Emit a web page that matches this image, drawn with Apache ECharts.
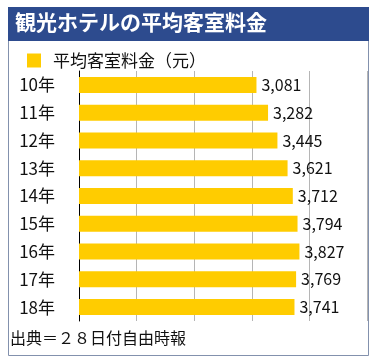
<!DOCTYPE html>
<html><head><meta charset="utf-8">
<script src="https://cdn.jsdelivr.net/npm/echarts@6/dist/echarts.min.js"></script>
<style>html,body{margin:0;padding:0;background:#fff}#c{width:376px;height:362px}</style>
</head><body><div id="c"></div>
<script>
const categories = ['10年','11年','12年','13年','14年','15年','16年','17年','18年'];
const values = [3081,3282,3445,3621,3712,3794,3827,3769,3741];
const seriesName = '平均客室料金（元）';
const titleText = '観光ホテルの平均客室料金';
const footerText = '出典＝２８日付自由時報';
const font = '"Noto Sans CJK JP", "Noto Sans", sans-serif';

const chart = echarts.init(document.getElementById('c'), null, {renderer:'canvas'});
chart.setOption({
  backgroundColor:'#fff',
  animation:false,
  textStyle:{fontFamily:font},
  graphic:[
    {type:'rect', shape:{x:8.5,y:7.5,width:360,height:348}, style:{fill:'#fff', stroke:'#8391ad', lineWidth:1}, z:-10},
    {type:'rect', shape:{x:8,y:7,width:361,height:34}, style:{fill:'#2d4b8e'}, z:-5},
    {type:'text', left:15, top:12, style:{text:titleText, fill:'#fff', font:'bold 21px '+font}},
    {type:'text', left:10, top:330, style:{text:footerText, fill:'#111', font:'16px '+font}}
  ],
  legend:{
    data:[seriesName], left:22, top:47, itemWidth:14, itemHeight:14, itemGap:10,
    icon:'rect', textStyle:{fontFamily:font, fontSize:17, color:'#111', padding:[0,0,0,7]}
  },
  grid:{left:79, right:9, top:71, bottom:41, containLabel:false},
  xAxis:{type:'value', min:0, max:5000, interval:1000,
    axisLabel:{show:false}, axisTick:{show:false}, axisLine:{show:false},
    splitLine:{show:true, lineStyle:{color:'#b5b5b5', width:1}}},
  yAxis:{type:'category', data:categories, inverse:true,
    axisLine:{show:true, lineStyle:{color:'#000', width:1}},
    axisTick:{show:false},
    axisLabel:{fontSize:17, color:'#111', margin:24}},
  series:[{
    name:seriesName, type:'bar', data:values, barWidth:16,
    itemStyle:{color:'#ffcc00'},
    label:{show:true, position:'right', distance:5, fontSize:16, color:'#111',
      formatter:p=>p.value.toLocaleString('en-US')}
  }]
});
</script></body></html>
